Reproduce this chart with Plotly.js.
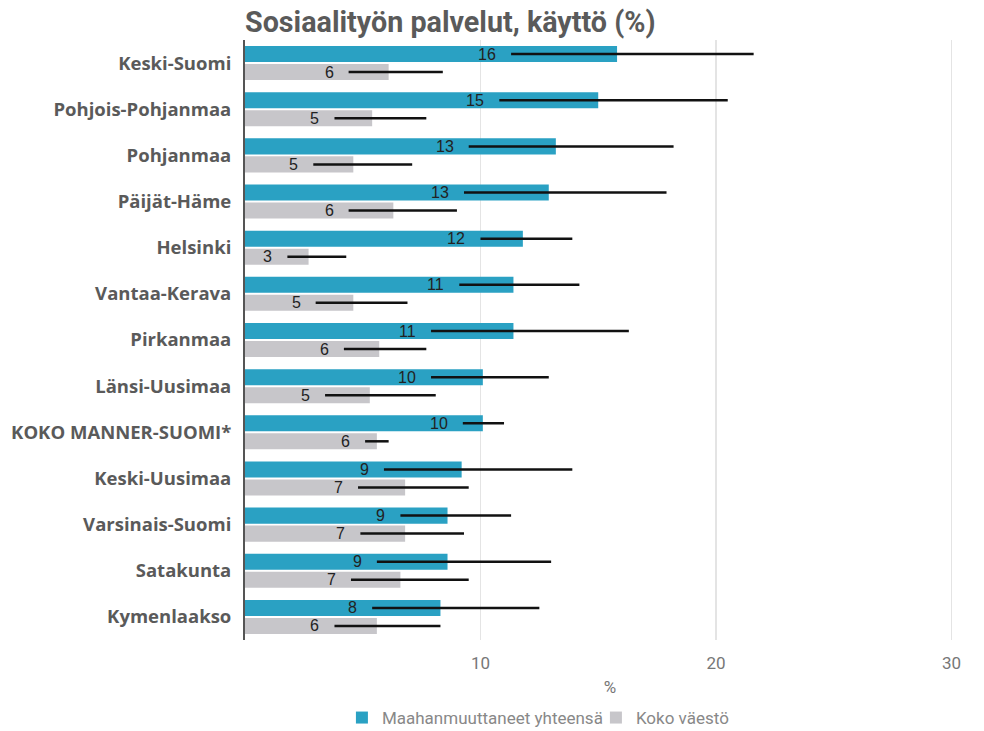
<!DOCTYPE html>
<html>
<head>
<meta charset="utf-8">
<script src="https://cdn.plot.ly/plotly-3.0.1.min.js"></script>
<style>html,body{margin:0;padding:0;background:#fff;}#chart{width:984px;height:731px;}</style>
</head>
<body>
<div id="chart"></div>
<script>
const categories = ['Keski-Suomi','Pohjois-Pohjanmaa','Pohjanmaa','Päijät-Häme','Helsinki','Vantaa-Kerava','Pirkanmaa','Länsi-Uusimaa','KOKO MANNER-SUOMI*','Keski-Uusimaa','Varsinais-Suomi','Satakunta','Kymenlaakso'];
const immigrants = [15.8, 15.0, 13.2, 12.9, 11.8, 11.4, 11.4, 10.1, 10.1, 9.2, 8.6, 8.6, 8.3];
const immLow     = [11.3, 10.8, 9.5, 9.3, 10.0, 9.1, 7.9, 7.9, 9.25, 5.9, 6.6, 5.6, 5.4];
const immHigh    = [21.6, 20.5, 18.2, 17.9, 13.9, 14.2, 16.3, 12.9, 11.0, 13.9, 11.3, 13.0, 12.5];
const population = [6.1, 5.4, 4.6, 6.3, 2.7, 4.6, 5.7, 5.3, 5.6, 6.8, 6.8, 6.6, 5.6];
const popLow     = [4.4, 3.8, 2.9, 4.4, 1.8, 3.0, 4.2, 3.4, 5.1, 4.8, 4.9, 4.5, 3.8];
const popHigh    = [8.4, 7.7, 7.1, 9.0, 4.3, 6.9, 7.7, 8.1, 6.1, 9.5, 9.3, 9.5, 8.3];
const seriesNames = ['Maahanmuuttaneet yhteensä', 'Koko väestö'];
const xTicks = [10, 20, 30];

const TEAL = '#2aa1c3';
const GREY = '#c7c6ca';
const BARGAP = 0.22, GROUPGAP = 0.11;

function errTrace(name, vals, lo, hi, color) {
  return {
    type: 'bar', orientation: 'h', name: name,
    y: categories, x: vals,
    marker: {color: color},
    error_x: {
      type: 'data', symmetric: false,
      array: vals.map((v, i) => hi[i] - v),
      arrayminus: vals.map((v, i) => v - lo[i]),
      color: '#111', thickness: 2.5, width: 0
    },
    hoverinfo: 'skip'
  };
}

const traces = [
  errTrace(seriesNames[0], immigrants, immLow, immHigh, TEAL),
  errTrace(seriesNames[1], population, popLow, popHigh, GREY)
];

const groupW = 1 - BARGAP;
const offset = groupW / 4;
const labelFont = {family: 'Liberation Sans, Arial, sans-serif', size: 16, color: '#222'};
const annotations = [];
categories.forEach((c, i) => {
  annotations.push({x: immLow[i], y: i - offset, xref: 'x', yref: 'y', text: String(Math.round(immigrants[i])),
    showarrow: false, xanchor: 'right', xshift: -13, yanchor: 'middle', font: labelFont});
  annotations.push({x: popLow[i], y: i + offset, xref: 'x', yref: 'y', text: String(Math.round(population[i])),
    showarrow: false, xanchor: 'right', xshift: -13, yanchor: 'middle', font: labelFont});
});

const layout = {
  width: 984, height: 731,
  paper_bgcolor: '#fff', plot_bgcolor: '#fff',
  margin: {l: 245, r: 9, t: 40, b: 91, autoexpand: false},
  barmode: 'group', bargap: BARGAP, bargroupgap: GROUPGAP,
  title: {
    text: '<b>Sosiaalityön palvelut, käyttö (%)</b>',
    x: 0, xref: 'paper', xanchor: 'left',
    y: 1 - 22/731, yref: 'container', yanchor: 'middle',
    font: {family: 'Roboto, sans-serif', size: 28.7, color: '#5a5a5a'}
  },
  xaxis: {
    range: [0, 31], tickvals: xTicks, ticktext: xTicks.map(String),
    showgrid: true, gridcolor: '#e4e4e4', gridwidth: 1.5,
    zeroline: false, showline: false,
    ticks: 'outside', ticklen: 8, tickcolor: 'rgba(0,0,0,0)',
    tickfont: {family: 'Roboto, sans-serif', size: 17, color: '#777'},
    title: {text: '%', standoff: 8, font: {family: 'Roboto, sans-serif', size: 17, color: '#777'}}
  },
  yaxis: {
    type: 'category', autorange: 'reversed',
    showline: true, linecolor: '#555', linewidth: 2,
    showgrid: false, zeroline: false,
    ticks: 'outside', ticklen: 8, tickcolor: 'rgba(0,0,0,0)',
    tickfont: {family: 'Open Sans, sans-serif', size: 18.5, color: '#5a5a5a', weight: 'bold'}
  },
  legend: {
    orientation: 'h', x: (342 - 245) / 730.6, xanchor: 'left',
    y: (731 - 718) / 731, yref: 'container', yanchor: 'middle',
    font: {family: 'Roboto, sans-serif', size: 17, color: '#888'},
    itemwidth: 30, traceorder: 'normal',
    entrywidth: 209, entrywidthmode: 'pixels'
  },
  annotations: annotations,
  showlegend: true
};

Plotly.newPlot('chart', traces, layout, {staticPlot: true, displayModeBar: false});
</script>
</body>
</html>
